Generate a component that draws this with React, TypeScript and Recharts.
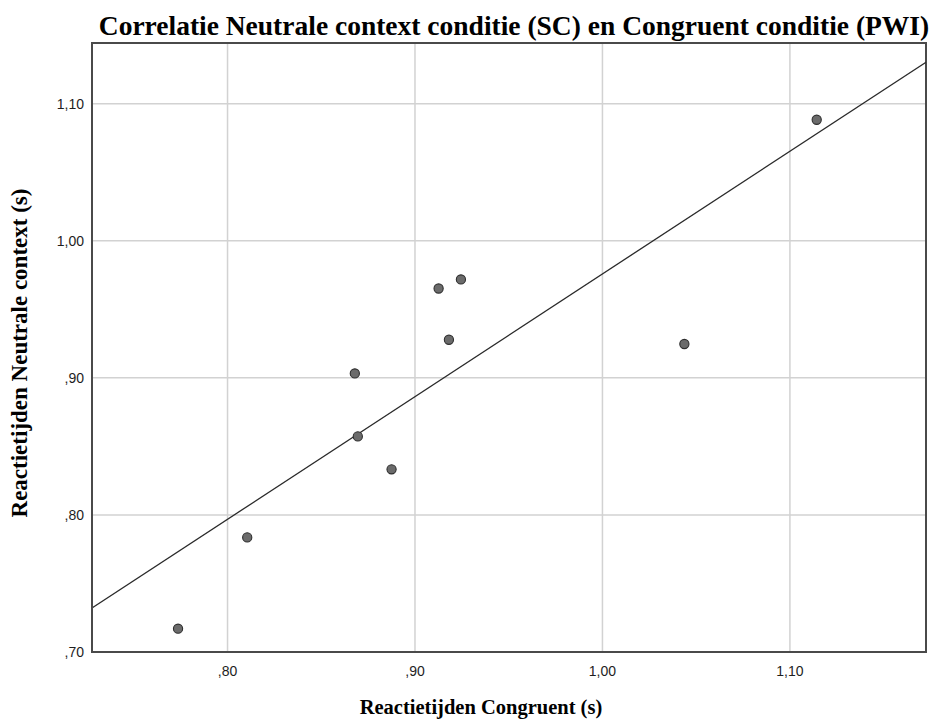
import React from "react";
import {
  ScatterChart,
  Scatter,
  XAxis,
  YAxis,
  CartesianGrid,
  ReferenceLine,
  ReferenceArea,
  Label,
} from "recharts";

// Reaction times, congruent condition (PWI), seconds
const congruentRT = [0.7736, 0.8105, 0.8679, 0.8695, 0.8875, 0.9126, 0.9245, 0.9181, 1.0437, 1.1143];
// Reaction times, neutral context condition (SC), seconds
const neutralRT = [0.717, 0.7836, 0.9032, 0.8573, 0.8333, 0.9652, 0.9718, 0.9278, 0.9247, 1.0883];

// Fit line endpoints (at the plot edges)
const fitX = [0.7277, 1.1726];
const fitY = [0.7321, 1.1303];

const xDomain = [0.7277, 1.1726];
const yDomain = [0.7, 1.1443];
const xTicks = [0.8, 0.9, 1.0, 1.1];
const yTicks = [0.7, 0.8, 0.9, 1.0, 1.1];

const titleText = "Correlatie Neutrale context conditie (SC) en Congruent conditie (PWI)";
const xTitle = "Reactietijden Congruent (s)";
const yTitle = "Reactietijden Neutrale context (s)";

const data = congruentRT.map((x, i) => ({ x, y: neutralRT[i] }));

const fmt = (v: number) => v.toFixed(2).replace(".", ",").replace(/^0/, "");

const serifBold = {
  fontFamily: "'Liberation Serif', 'Times New Roman', serif",
  fontWeight: "bold" as const,
  fill: "#000",
};

const Dot = (props: any) => {
  const { cx, cy } = props;
  if (cx == null || cy == null) return null;
  return <circle cx={cx} cy={cy} r={4.6} fill="#6b6b6b" stroke="#2e2e2e" strokeWidth={1.1} />;
};

export default function App() {
  return (
    <div style={{ position: "absolute", left: 0, top: 0, width: 940, height: 722, background: "#fff" }}>
      <svg width={940} height={42} style={{ position: "absolute", left: 0, top: 0 }}>
        <text x={514} y={35} textAnchor="middle" fontSize={27.5} {...serifBold}>
          {titleText}
        </text>
      </svg>
      <ScatterChart width={940} height={722} margin={{ top: 43, right: 14, bottom: 0, left: 0 }}>
        <CartesianGrid stroke="#d2d2d2" strokeWidth={1.5} horizontalValues={yTicks} verticalValues={xTicks} />
        <XAxis
          type="number"
          dataKey="x"
          domain={xDomain}
          ticks={xTicks}
          allowDataOverflow
          tickFormatter={fmt}
          height={70}
          tickLine={false}
          tickMargin={8}
          axisLine={{ stroke: "#4a4a4a", strokeWidth: 2 }}
          tick={{ fill: "#1e1e1e", fontSize: 14, fontFamily: "'Liberation Sans', sans-serif" }}
        >
          <Label
            content={() => (
              <text x={481} y={714} textAnchor="middle" fontSize={20.5} {...serifBold}>
                {xTitle}
              </text>
            )}
          />
        </XAxis>
        <YAxis
          type="number"
          dataKey="y"
          domain={yDomain}
          ticks={yTicks}
          allowDataOverflow
          tickFormatter={fmt}
          width={92}
          tickLine={false}
          axisLine={{ stroke: "#4a4a4a", strokeWidth: 2 }}
          tick={{ fill: "#1e1e1e", fontSize: 14, fontFamily: "'Liberation Sans', sans-serif" }}
        >
          <Label
            content={() => (
              <text
                x={27}
                y={353}
                textAnchor="middle"
                fontSize={23}
                transform="rotate(-90, 27, 353)"
                {...serifBold}
              >
                {yTitle}
              </text>
            )}
          />
        </YAxis>
        <ReferenceArea
          x1={xDomain[0]}
          x2={xDomain[1]}
          y1={yDomain[0]}
          y2={yDomain[1]}
          fill="none"
          fillOpacity={0}
          stroke="#4a4a4a"
          strokeWidth={2}
          ifOverflow="extendDomain"
        />
        <ReferenceLine
          segment={[
            { x: fitX[0], y: fitY[0] },
            { x: fitX[1], y: fitY[1] },
          ]}
          stroke="#2a2a2a"
          strokeWidth={1.3}
          ifOverflow="hidden"
        />
        <Scatter data={data} shape={<Dot />} isAnimationActive={false} />
      </ScatterChart>
    </div>
  );
}
